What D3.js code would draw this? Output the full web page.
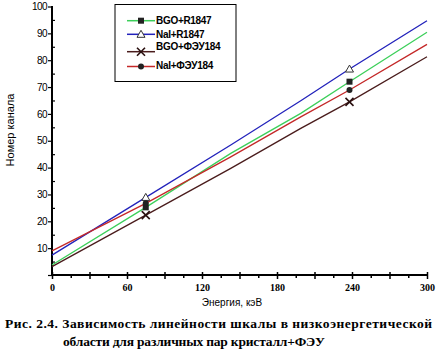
<!DOCTYPE html>
<html><head><meta charset="utf-8">
<script src="https://cdn.jsdelivr.net/npm/d3@7"></script>
<style>body{margin:0;background:#fff}svg{display:block}</style>
</head><body>
<script>
// Data
const energy = [0, 75, 143, 199, 238, 300];
const bgoR1847 = [3.7, 25.2, 45.3, 60.2, 72.0, 90.4];
const naiR1847 = [7.4, 28.9, 48.4, 64.9, 76.7, 94.7];
const bgoFEU184 = [3.1, 22.3, 39.7, 54.6, 64.5, 81.3];
const naiFEU184 = [9.0, 26.7, 44.0, 58.9, 68.9, 85.9];
const markerEnergy = [75, 238];
const seriesNames = ["BGO+R1847", "NaI+R1847", "BGO+ФЭУ184", "NaI+ФЭУ184"];
const xTicks = [0, 60, 120, 180, 240, 300];
const yTicks = [10, 20, 30, 40, 50, 60, 70, 80, 90, 100];

const series = [
  {name: seriesNames[0], values: bgoR1847, color: "#3ccf5a", marker: "square"},
  {name: seriesNames[1], values: naiR1847, color: "#2222bb", marker: "triangle"},
  {name: seriesNames[2], values: bgoFEU184, color: "#4a1c1c", marker: "cross"},
  {name: seriesNames[3], values: naiFEU184, color: "#c42828", marker: "circle"}
];

const W = 437, H = 354;
const svg = d3.select("body").append("svg").attr("width", W).attr("height", H);
const x = d3.scaleLinear().domain([0, 300]).range([52, 427]);
const y = d3.scaleLinear().domain([0, 100]).range([275, 6.5]);
const sans = "'Liberation Sans', Arial, sans-serif";
const serif = "'Liberation Serif', 'Times New Roman', serif";

// axes
const xAxis = svg.append("g").attr("transform", "translate(0,275)")
  .call(d3.axisBottom(x).tickValues(d3.range(0, 301, 15)).tickSize(4)
    .tickFormat(d => xTicks.includes(d) ? d : ""));
xAxis.select(".domain").attr("stroke-width", 2).attr("d", "M52,0H428");
xAxis.selectAll(".tick line").attr("stroke-width", 1.5)
  .attr("y1", d => d % 30 === 0 ? -3 : 0).attr("y2", d => d % 30 === 0 ? 4 : 3);
xAxis.selectAll(".tick text").attr("font-family", serif)
  .attr("font-weight", "bold").attr("font-size", 10).attr("dy", "0.9em");

const yAxis = svg.append("g").attr("transform", "translate(52,0)")
  .call(d3.axisLeft(y).tickValues(d3.range(0, 101, 5)).tickSize(4)
    .tickFormat(d => yTicks.includes(d) ? d : ""));
yAxis.select(".domain").attr("stroke-width", 2).attr("d", "M0,276V6");
yAxis.selectAll(".tick line").attr("stroke-width", 1.2)
  .attr("x1", d => d % 10 === 0 ? 0 : 3).attr("x2", d => d % 10 === 0 ? -4 : 0);
yAxis.selectAll(".tick text").attr("font-family", sans)
  .attr("font-size", 10).attr("letter-spacing", -0.6).attr("x", -5);
svg.selectAll(".tick text").attr("fill", "#000");

// lines
const line = d3.line().x((d, i) => x(energy[i])).y(d => y(d));
series.forEach(s => {
  svg.append("path").datum(s.values).attr("d", line)
    .attr("fill", "none").attr("stroke", s.color).attr("stroke-width", 1.3);
});

function drawMarker(g, type, cx, cy, color) {
  if (type === "square") g.append("rect").attr("x", cx - 3).attr("y", cy - 3).attr("width", 6).attr("height", 6).attr("fill", "#222");
  else if (type === "triangle") g.append("path").attr("d", `M${cx},${cy-4}L${cx+4},${cy+3}L${cx-4},${cy+3}Z`).attr("fill", "#fff").attr("stroke", "#333").attr("stroke-width", 1);
  else if (type === "cross") g.append("path").attr("d", `M${cx-4},${cy-4}L${cx+4},${cy+4}M${cx-4},${cy+4}L${cx+4},${cy-4}`).attr("stroke", "#2a1010").attr("stroke-width", 1.6);
  else g.append("circle").attr("cx", cx).attr("cy", cy).attr("r", 3).attr("fill", "#222");
}
series.forEach(s => {
  markerEnergy.forEach(e => {
    const i = energy.indexOf(e);
    drawMarker(svg, s.marker, x(e), y(s.values[i]), s.color);
  });
});

// legend
const lg = svg.append("g");
lg.append("rect").attr("x", 115).attr("y", 4.5).attr("width", 121).attr("height", 77)
  .attr("fill", "#fff").attr("stroke", "#000").attr("stroke-width", 1);
const lineYs = [20.7, 34.3, 51.7, 66.5];
const textYs = [24, 37.5, 50, 69];
series.forEach((s, i) => {
  lg.append("line").attr("x1", 127).attr("x2", 155).attr("y1", lineYs[i]).attr("y2", lineYs[i])
    .attr("stroke", s.color).attr("stroke-width", 1.5);
  drawMarker(lg, s.marker, 141, lineYs[i], s.color);
  lg.append("text").attr("x", 156).attr("y", textYs[i]).text(s.name)
    .attr("font-family", sans).attr("font-weight", "bold")
    .attr("font-size", 10).attr("letter-spacing", -0.3);
});

// axis labels
svg.append("text").attr("x", 232).attr("y", 306).attr("text-anchor", "middle")
  .attr("font-family", sans).attr("font-size", 10).text("Энергия, кэВ");
svg.append("text").attr("transform", "translate(14,130) rotate(-90)").attr("text-anchor", "middle")
  .attr("font-family", sans).attr("font-size", 11).text("Номер канала");

// caption
svg.append("text").attr("x", 5).attr("y", 328).attr("textLength", 427)
  .attr("font-family", serif).attr("font-weight", "bold").attr("font-size", 13.5)
  .text("Рис. 2.4. Зависимость линейности шкалы в низкоэнергетической");
svg.append("text").attr("x", 63).attr("y", 346).attr("textLength", 262)
  .attr("font-family", serif).attr("font-weight", "bold").attr("font-size", 13.5)
  .text("области для различных пар кристалл+ФЭУ");
</script>
</body></html>
